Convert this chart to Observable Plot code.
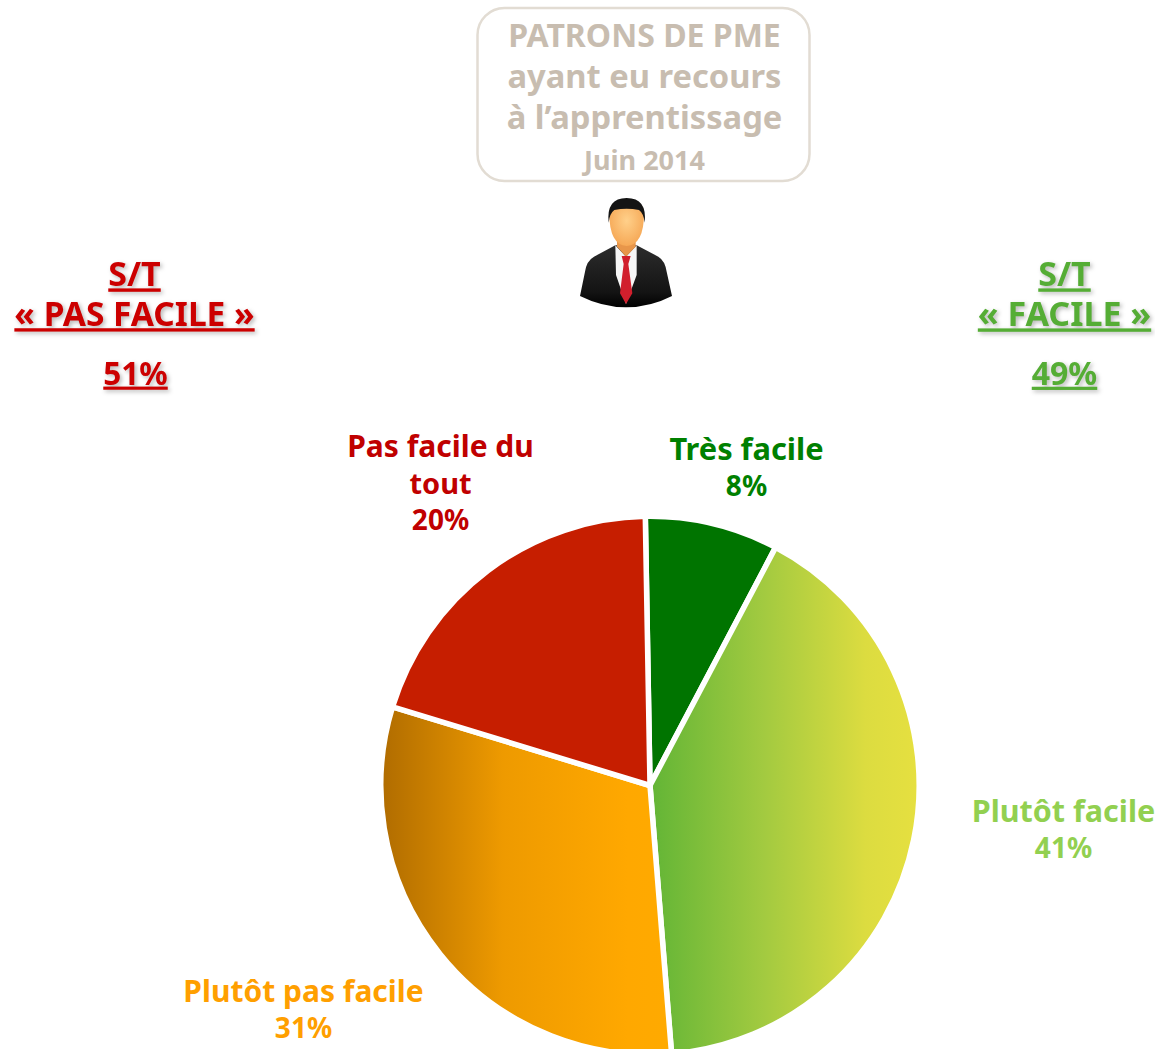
<!DOCTYPE html>
<html><head><meta charset="utf-8">
<script src="https://cdn.jsdelivr.net/npm/d3@7"></script>
<script src="https://cdn.jsdelivr.net/npm/@observablehq/plot@0.6"></script>
<style>
html,body{margin:0;padding:0;background:#fff;overflow:hidden}
.ul text{text-decoration:underline;text-decoration-thickness:3px;text-underline-offset:4px;text-decoration-skip-ink:none}
</style></head><body>
<div id="chart"></div>
<script>
const categories = ["Très facile", "Plutôt facile", "Plutôt pas facile", "Pas facile du tout"];
const values = [8, 41, 31, 20];
const sliceNames = ["Très facile", "Plutôt facile", "Plutôt pas facile", "Pas facile du", "tout"];
const slicePercents = ["8%", "41%", "31%", "20%"];
const titleLines = ["PATRONS DE PME", "ayant eu recours", "à l’apprentissage"];
const titleDate = "Juin 2014";
const negHead = ["S/T", "« PAS FACILE »", "51%"];
const posHead = ["S/T", "« FACILE »", "49%"];

const W = 1155, H = 1049;
const FONT = "'Noto Sans',sans-serif";
const SH = "drop-shadow(2px 2.5px 2px rgba(0,0,0,.28))";

function txt(t, x, y, size, fill, extra = {}) {
  return Plot.text([t], {text: d => d, frameAnchor: "top-left", textAnchor: "middle", lineAnchor: "middle",
    dx: x, dy: y, fontSize: size, fontWeight: 700, fontFamily: FONT, fill, ...extra});
}

function pieMark(index, scales, vals, dims, context) {
  const cx = scales.x(650), cy = scales.y(785.5), R = scales.x(919.2) - scales.x(650) ;
  const ns = "http://www.w3.org/2000/svg";
  const g = d3.select(context.document.createElementNS(ns, "g")).attr("aria-label", "pie");
  const defs = g.append("defs");
  const grad = (id, stops) => {
    const lg = defs.append("linearGradient").attr("id", id);
    stops.forEach(([o, c]) => lg.append("stop").attr("offset", o).attr("stop-color", c));
  };
  grad("gPos", [[0, "#62b536"], [.42, "#a2ca40"], [.8, "#dcdc40"], [1, "#e6e040"]]);
  grad("gNeg", [[0, "#b06c00"], [.42, "#ee9a00"], [.85, "#ffa800"], [1, "#ffaa00"]]);
  const start = -1 * Math.PI / 180;
  const arcs = d3.pie().sort(null).startAngle(start).endAngle(start + 2 * Math.PI)(values);
  const arc = d3.arc().innerRadius(0).outerRadius(R);
  arcs.forEach((a, i) => {
    g.append("path").attr("transform", `translate(${cx},${cy})`).attr("d", arc(a))
      .attr("fill", scales.color(categories[i])).attr("stroke", "#fff").attr("stroke-width", 5.5)
      .attr("stroke-linejoin", "round");
  });
  return g.node();
}

function personMark(index, scales, vals, dims, context) {
  const ns = "http://www.w3.org/2000/svg";
  const g = d3.select(context.document.createElementNS(ns, "g")).attr("aria-label", "person")
    .attr("transform", `translate(${scales.x(470)},${scales.y(0)}) scale(${1/3})`);
  const defs = g.append("defs");
  const lg = defs.append("radialGradient").attr("id", "skin").attr("cx", .5).attr("cy", .45).attr("r", .6);
  lg.append("stop").attr("offset", 0).attr("stop-color", "#ffd08a");
  lg.append("stop").attr("offset", 1).attr("stop-color", "#f5a552");
  const sg = defs.append("linearGradient").attr("id", "suit").attr("x1", 0).attr("x2", 0).attr("y1", 0).attr("y2", 1);
  sg.append("stop").attr("offset", 0).attr("stop-color", "#2c2c2c");
  sg.append("stop").attr("offset", .75).attr("stop-color", "#141414");
  sg.append("stop").attr("offset", 1).attr("stop-color", "#000");
  const p = (d, f) => g.append("path").attr("d", d).attr("fill", f);
  p("M436 736 L372 770 Q350 782 345 815 L330 888 Q398 922 468 922 Q540 922 606 888 L590 815 Q585 782 565 770 L500 736 Z", "url(#suit)");
  p("M436 736 L468 770 L500 736 L500 825 L468 912 L438 825 Z", "#f6f6f6");
  p("M441 700 L441 740 L468 770 L497 740 L497 700 Z", "#e8964a");
  p("M455 768 L482 768 L475 792 L487 880 L468 912 L450 880 L461 792 Z", "#d11f2d");
  p("M418 640 Q418 600 470 600 Q522 600 522 640 Q522 735 470 738 Q418 735 418 640 Z", "url(#skin)");
  p("M416 668 Q408 594 470 594 Q532 594 524 668 Q521 640 507 630 Q470 622 433 630 Q419 640 416 668 Z", "#141414");
  return g.node();
}

const ulSh = {className: "ul", imageFilter: SH};
const RED = "#cc0000", GRN = "#55ad35", TAUPE = "#c8bdb0";
const plot = Plot.plot({
  width: W, height: H, margin: 0,
  x: {domain: [0, W], range: [0, W], axis: null},
  y: {domain: [0, H], range: [0, H], axis: null},
  color: {domain: categories, range: ["#007400", "url(#gPos)", "url(#gNeg)", "#c61e00"], type: "ordinal"},
  marks: [
    pieMark,
    personMark,
    Plot.rect([0], {x1: () => 477.5, x2: () => 809.5, y1: () => 8, y2: () => 181, rx: 27,
      fill: "none", stroke: "#e2dcd3", strokeWidth: 2.5}),
    txt(titleLines[0], 644, 36.5, 32, TAUPE),
    txt(titleLines[1], 644, 77.5, 32.7, TAUPE),
    txt(titleLines[2], 644, 118.5, 32.7, TAUPE),
    txt(titleDate, 644, 161, 27, TAUPE),
    txt(negHead[0], 134, 275, 34, RED, ulSh),
    txt(negHead[1], 134, 315, 33.5, RED, ulSh),
    txt(negHead[2], 135, 374, 31.5, RED, ulSh),
    txt(posHead[0], 1064, 275, 34, GRN, ulSh),
    txt(posHead[1], 1064, 315, 34, GRN, ulSh),
    txt(posHead[2], 1064, 374, 32, GRN, ulSh),
    txt(sliceNames[0], 746, 450, 30.8, "#008000"),
    txt(slicePercents[0], 746, 487, 28, "#008000"),
    txt(sliceNames[1], 1063, 812, 30.5, "#92d050"),
    txt(slicePercents[1], 1063, 849, 28, "#92d050"),
    txt(sliceNames[2], 303, 992, 30, "#ff9f00"),
    txt(slicePercents[2], 303, 1029, 28, "#ff9f00"),
    txt(sliceNames[3], 440, 447, 30, "#c00000"),
    txt(sliceNames[4], 440, 484, 29, "#c00000"),
    txt(slicePercents[3], 440, 521, 28, "#c00000")
  ]
});
document.getElementById("chart").append(plot);
</script>
</body></html>
